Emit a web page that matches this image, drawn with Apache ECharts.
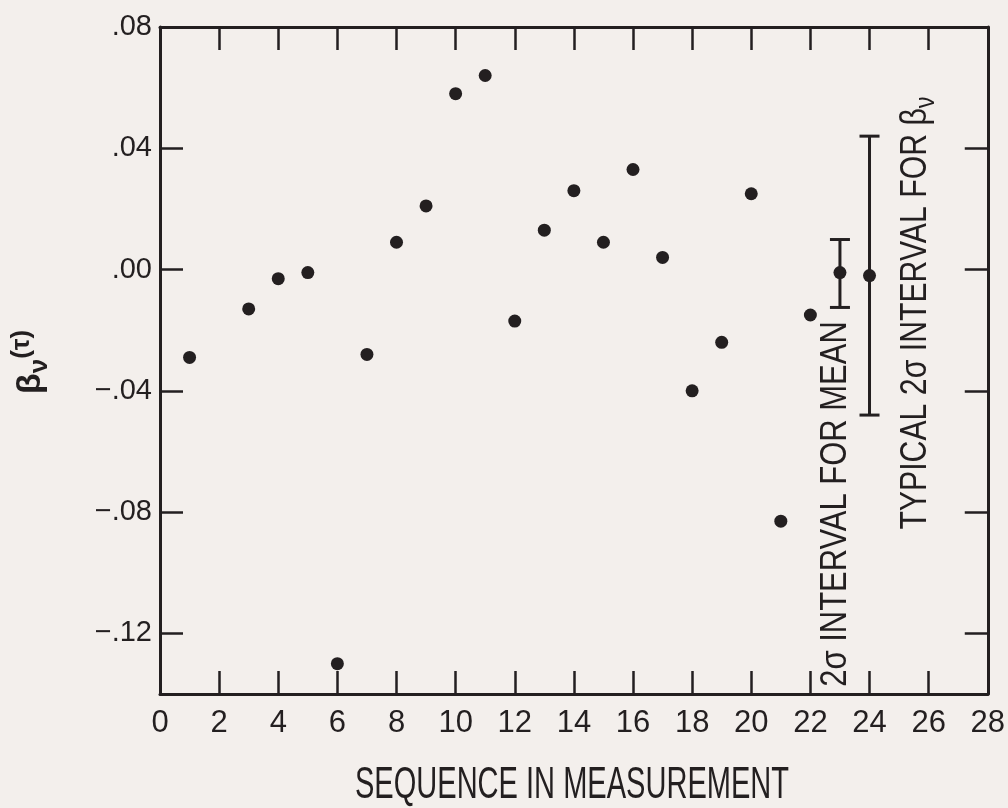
<!DOCTYPE html>
<html>
<head>
<meta charset="utf-8">
<script src="https://cdn.jsdelivr.net/npm/echarts@6/dist/echarts.min.js"></script>
<style>
  html, body { margin: 0; padding: 0; background: #f3efec; }
  #chart { width: 1008px; height: 808px; }
</style>
</head>
<body>
<div id="chart"></div>
<script>
const seqX = [1, 3, 4, 5, 6, 7, 8, 9, 10, 11, 12, 13, 14, 15, 16, 17, 18, 19, 20, 21, 22];
const betaV = [-0.029, -0.013, -0.003, -0.001, -0.130, -0.028, 0.009, 0.021, 0.058, 0.064,
  -0.017, 0.013, 0.026, 0.009, 0.033, 0.004, -0.040, -0.024, 0.025, -0.083, -0.015];

// the two 2-sigma intervals (mean, typical)
const intervalX = [23, 24];
const intervalMid = [-0.001, -0.002];
const intervalLow = [-0.0125, -0.048];
const intervalHigh = [0.0099, 0.044];

// tick labels
const xTicks = [0, 2, 4, 6, 8, 10, 12, 14, 16, 18, 20, 22, 24, 26, 28];
const yTicks = [-0.12, -0.08, -0.04, 0, 0.04, 0.08];

const ink = '#231f20';
const sans = '"Liberation Sans", Arial, sans-serif';

const chart = echarts.init(document.getElementById('chart'));

const fmtY = v => (v < 0 ? '\u2212' : '') + Math.abs(v).toFixed(2).replace(/^0/, '');

const xBase = {
  type: 'value', min: 0, max: 28, interval: 2,
  splitLine: { show: false },
  axisLine: { onZero: false, lineStyle: { color: ink, width: 3 } },
  axisTick: { inside: true, length: 23, lineStyle: { color: ink, width: 2.5 } }
};
const yBase = {
  type: 'value', min: -0.14, max: 0.08,
  splitLine: { show: false },
  axisLine: { onZero: false, lineStyle: { color: ink, width: 3 } },
  axisTick: { inside: true, length: 23, customValues: yTicks, lineStyle: { color: ink, width: 2.5 } }
};

const option = {
  backgroundColor: '#f3efec',
  animation: false,
  grid: { left: 160, right: 17, top: 27, bottom: 114 },
  xAxis: [
    Object.assign({}, xBase, {
      position: 'bottom',
      axisLabel: {
        color: ink, fontFamily: sans, fontSize: 31, margin: 14,
        customValues: xTicks
      }
    }),
    Object.assign({}, xBase, { position: 'top', axisLabel: { show: false } })
  ],
  yAxis: [
    Object.assign({}, yBase, {
      position: 'left',
      axisLabel: {
        color: ink, fontFamily: sans, fontSize: 29, margin: 8,
        customValues: yTicks, formatter: fmtY
      }
    }),
    Object.assign({}, yBase, { position: 'right', axisLabel: { show: false } })
  ],
  graphic: [
    {
      type: 'text', x: 572, y: 786, scaleX: 0.66,
      style: {
        text: 'SEQUENCE IN MEASUREMENT', fill: ink, font: '44px ' + sans,
        align: 'center', verticalAlign: 'middle'
      }
    },
    {
      type: 'text', x: 31, y: 362, rotation: Math.PI / 2,
      style: {
        text: '{b|\u03b2}{s|\u03bd}{t|(\u03c4)}', fill: ink, align: 'center', verticalAlign: 'middle',
        rich: {
          b: { fontFamily: sans, fontWeight: 'bold', fontSize: 34, lineHeight: 44, verticalAlign: 'middle', fill: ink },
          s: { fontFamily: sans, fontWeight: 'bold', fontSize: 26, lineHeight: 26, verticalAlign: 'bottom', fill: ink },
          t: { fontFamily: sans, fontWeight: 'bold', fontSize: 26, lineHeight: 36, verticalAlign: 'top', fill: ink }
        }
      }
    },
    {
      type: 'text', x: 836, y: 504, rotation: Math.PI / 2, scaleX: 0.86,
      style: {
        text: '2\u03c3 INTERVAL FOR MEAN', fill: ink, font: '36px ' + sans,
        align: 'center', verticalAlign: 'middle'
      }
    },
    {
      type: 'text', x: 916, y: 313, rotation: Math.PI / 2, scaleX: 0.84,
      style: {
        text: '{a|TYPICAL 2\u03c3 INTERVAL FOR \u03b2}{s|\u03bd}', fill: ink,
        align: 'center', verticalAlign: 'middle',
        rich: {
          a: { fontFamily: sans, fontSize: 36, lineHeight: 48, verticalAlign: 'middle', fill: ink },
          s: { fontFamily: sans, fontSize: 28, lineHeight: 28, verticalAlign: 'bottom', fill: ink }
        }
      }
    }
  ],
  series: [
    {
      type: 'scatter',
      symbol: 'circle',
      symbolSize: 13,
      itemStyle: { color: ink, opacity: 1 },
      data: seqX.map((x, i) => [x, betaV[i]])
    },
    {
      type: 'custom',
      data: intervalX.map((x, i) => [x, intervalLow[i], intervalHigh[i], intervalMid[i]]),
      encode: { x: 0, y: [1, 2, 3] },
      renderItem: (params, api) => {
        const x = api.value(0);
        const pLo = api.coord([x, api.value(1)]);
        const pHi = api.coord([x, api.value(2)]);
        const pMid = api.coord([x, api.value(3)]);
        const half = 10;
        const st = { stroke: ink, lineWidth: 3 };
        return {
          type: 'group',
          children: [
            { type: 'line', shape: { x1: pLo[0], y1: pLo[1], x2: pHi[0], y2: pHi[1] }, style: st },
            { type: 'line', shape: { x1: pLo[0] - half, y1: pLo[1], x2: pLo[0] + half, y2: pLo[1] }, style: st },
            { type: 'line', shape: { x1: pHi[0] - half, y1: pHi[1], x2: pHi[0] + half, y2: pHi[1] }, style: st },
            { type: 'circle', shape: { cx: pMid[0], cy: pMid[1], r: 6.5 }, style: { fill: ink } }
          ]
        };
      }
    }
  ]
};

chart.setOption(option);
</script>
</body>
</html>
